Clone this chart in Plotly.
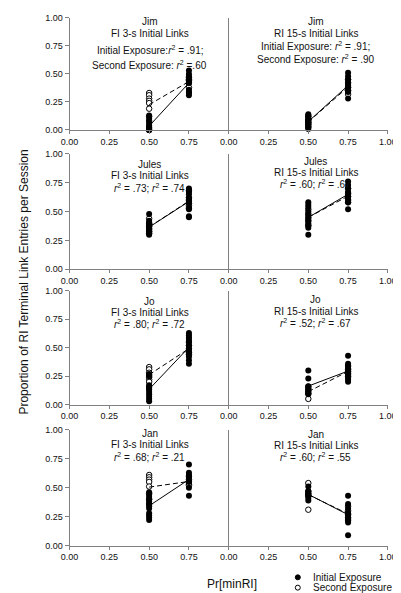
import numpy as np
import plotly.graph_objects as go

W, H = 401, 593

# ---------------- data ----------------
subjects = ["Jim", "Jim", "Jules", "Jules", "Jo", "Jo", "Jan", "Jan"]
conditions = ["FI 3-s Initial Links", "RI 15-s Initial Links"] * 4
r2_lines = [
    ["Initial Exposure:<i>r</i><sup>2</sup> = .91;", "Second Exposure: <i>r</i><sup>2</sup> =.60"],
    ["Initial Exposure: <i>r</i><sup>2</sup> = .91;", "Second Exposure: <i>r</i><sup>2</sup> = .90"],
    ["<i>r</i><sup>2</sup> = .73; <i>r</i><sup>2</sup> = .74"],
    ["<i>r</i><sup>2</sup> = .60; <i>r</i><sup>2</sup> = .67"],
    ["<i>r</i><sup>2</sup> = .80; <i>r</i><sup>2</sup> = .72"],
    ["<i>r</i><sup>2</sup> = .52; <i>r</i><sup>2</sup> = .67"],
    ["<i>r</i><sup>2</sup> = .68; <i>r</i><sup>2</sup> = .21"],
    ["<i>r</i><sup>2</sup> = .60; <i>r</i><sup>2</sup> = .55"],
]
x_ticks = [0.00, 0.25, 0.50, 0.75, 1.00]
y_ticks = [0.00, 0.25, 0.50, 0.75, 1.00]

# Initial exposure (filled) at Pr[minRI]=0.50 and 0.75
initial_050 = [
    [0.13, 0.10, 0.06, 0.04, 0.03, 0.02, 0.01, 0.00, 0.00, 0.00, 0.01, 0.02],
    [0.14, 0.13, 0.12, 0.10, 0.09, 0.08, 0.07, 0.06, 0.05, 0.03, 0.02, 0.01],
    [0.48, 0.42, 0.40, 0.39, 0.38, 0.37, 0.36, 0.35, 0.34, 0.33, 0.32, 0.31, 0.30],
    [0.58, 0.56, 0.54, 0.50, 0.47, 0.44, 0.42, 0.40, 0.38, 0.36, 0.30],
    [0.27, 0.25, 0.17, 0.16, 0.15, 0.14, 0.13, 0.11, 0.09, 0.07, 0.05, 0.03],
    [0.30, 0.23, 0.16, 0.14, 0.12, 0.10, 0.09],
    [0.46, 0.44, 0.42, 0.40, 0.38, 0.36, 0.34, 0.32, 0.28, 0.26, 0.24, 0.22],
    [0.51, 0.47, 0.45, 0.44, 0.43, 0.41, 0.39],
]
initial_075 = [
    [0.53, 0.50, 0.48, 0.46, 0.45, 0.44, 0.42, 0.36, 0.34, 0.33, 0.31],
    [0.51, 0.48, 0.45, 0.42, 0.40, 0.38, 0.36, 0.35, 0.34, 0.28],
    [0.70, 0.69, 0.67, 0.65, 0.62, 0.60, 0.59, 0.57, 0.53, 0.45, 0.46, 0.52],
    [0.76, 0.73, 0.70, 0.67, 0.65, 0.63, 0.61, 0.58, 0.52],
    [0.63, 0.61, 0.59, 0.57, 0.55, 0.52, 0.49, 0.47, 0.45, 0.42, 0.39, 0.36],
    [0.43, 0.36, 0.34, 0.32, 0.30, 0.28, 0.26, 0.24, 0.22, 0.20],
    [0.70, 0.63, 0.61, 0.59, 0.56, 0.55, 0.50, 0.43],
    [0.43, 0.36, 0.32, 0.28, 0.26, 0.24, 0.22, 0.20, 0.09],
]
# Second exposure (open) at 0.50 and 0.75
second_050 = [
    [0.33, 0.31, 0.28, 0.26, 0.24, 0.19, 0.12, 0.08],
    [0.12, 0.09, 0.07, 0.05, 0.03],
    [0.44, 0.40, 0.37, 0.35, 0.33, 0.31],
    [0.52, 0.48, 0.45, 0.42, 0.38],
    [0.33, 0.31, 0.28, 0.26, 0.24, 0.22, 0.20],
    [0.16, 0.14, 0.12, 0.10, 0.05],
    [0.61, 0.59, 0.57, 0.55, 0.51, 0.45, 0.40, 0.36],
    [0.54, 0.47, 0.45, 0.43, 0.31],
]
second_075 = [
    [0.47, 0.45, 0.44, 0.42, 0.38],
    [0.45, 0.42, 0.38, 0.35, 0.32],
    [0.68, 0.62, 0.60, 0.57, 0.55, 0.53],
    [0.70, 0.66, 0.63, 0.60, 0.58],
    [0.55, 0.52, 0.49, 0.46, 0.44],
    [0.34, 0.31, 0.29, 0.27, 0.25],
    [0.60, 0.57, 0.55, 0.53, 0.52],
    [0.34, 0.30, 0.27, 0.24, 0.22],
]

# ---------------- layout geometry (pixels) ----------------
FONT = "Liberation Sans, Arial, sans-serif"
col_px = [(55, 221.7), (221.7, 388.3)]
row_px = [(5, 119), (143.3, 260.7), (282.7, 398.3), (424, 541.7)]
title_x = [139, 313]
title_y = [
    [[8.3, 20.7, 37.5, 52.5], [8.3, 20.7, 33.5, 46.5]],
    [[154, 165.7, 177.7], [151, 162, 173.5]],
    [[293.3, 304.5, 316], [291.5, 303.3, 315.7]],
    [[427.5, 439.3, 452], [429, 440, 451.7]],
]

AX = "#808080"

fig = go.Figure()
annotations = []

for i in range(8):
    r, c = divmod(i, 2)
    n = i + 1
    xa = "x" if n == 1 else f"x{n}"
    ya = "y" if n == 1 else f"y{n}"
    xd = [col_px[c][0] / W, col_px[c][1] / W]
    yd = [1 - row_px[r][1] / H, 1 - row_px[r][0] / H]
    xkey = "xaxis" if n == 1 else f"xaxis{n}"
    ykey = "yaxis" if n == 1 else f"yaxis{n}"
    xt = x_ticks if c == 1 else x_ticks[:-1]
    fig.layout[xkey] = dict(
        domain=xd, anchor=ya, range=[0, 1], showgrid=False, zeroline=False,
        showline=True, linecolor=AX, linewidth=1, ticks="outside", ticklen=3,
        tickcolor=AX, tickvals=xt, ticktext=[f"{v:.2f}" for v in xt],
        tickfont=dict(size=9, color="#111", family=FONT), fixedrange=True,
    )
    if c == 0:
        fig.layout[ykey] = dict(
            domain=yd, anchor=xa, range=[0, 1], showgrid=False, zeroline=False,
            showline=True, linecolor=AX, linewidth=1, ticks="outside", ticklen=4,
            tickcolor=AX, tickvals=y_ticks, ticktext=[f"{v:.2f}" for v in y_ticks],
            tickfont=dict(size=9, color="#111", family=FONT),
        )
    else:
        fig.layout[ykey] = dict(
            domain=yd, anchor=xa, range=[0, 1], showgrid=False, zeroline=False,
            showline=True, linecolor=AX, linewidth=1, ticks="", showticklabels=False,
        )

    xs_i = [0.5] * len(initial_050[i]) + [0.75] * len(initial_075[i])
    ys_i = initial_050[i] + initial_075[i]
    xs_s = [0.5] * len(second_050[i]) + [0.75] * len(second_075[i])
    ys_s = second_050[i] + second_075[i]

    fig.add_trace(go.Scatter(
        x=xs_s, y=ys_s, mode="markers", xaxis=xa, yaxis=ya, cliponaxis=False,
        marker=dict(symbol="circle", size=5.5, color="white", line=dict(color="black", width=1)),
        showlegend=False, name="Second Exposure",
    ))
    fig.add_trace(go.Scatter(
        x=xs_i, y=ys_i, mode="markers", xaxis=xa, yaxis=ya, cliponaxis=False,
        marker=dict(symbol="circle", size=6, color="black"),
        showlegend=False, name="Initial Exposure",
    ))
    lx = np.array([0.5, 0.75])
    bi = np.polyfit(xs_i, ys_i, 1)
    bs = np.polyfit(xs_s, ys_s, 1)
    fig.add_trace(go.Scatter(
        x=lx, y=np.polyval(bi, lx), mode="lines", xaxis=xa, yaxis=ya,
        line=dict(color="black", width=1), showlegend=False, hoverinfo="skip",
    ))
    fig.add_trace(go.Scatter(
        x=lx, y=np.polyval(bs, lx), mode="lines", xaxis=xa, yaxis=ya,
        line=dict(color="black", width=1, dash="5px,3px"), showlegend=False, hoverinfo="skip",
    ))

    lines = [subjects[i], conditions[i]] + r2_lines[i]
    for txt, py in zip(lines, title_y[r][c]):
        annotations.append(dict(
            text=txt, x=title_x[c] / W, y=1 - py / H, xref="paper", yref="paper",
            xanchor="center", yanchor="middle", showarrow=False,
            font=dict(size=10, color="#111", family=FONT),
        ))

# axis titles
annotations.append(dict(
    text="Proportion of RI Terminal Link Entries per Session", x=7 / W, y=1 - 273.5 / H,
    xref="paper", yref="paper", textangle=-90, showarrow=False,
    xanchor="center", yanchor="middle", font=dict(size=12, color="#111", family=FONT),
))
annotations.append(dict(
    text="Pr[minRI]", x=225 / W, y=1 - 581 / H, xref="paper", yref="paper",
    showarrow=False, xanchor="center", yanchor="middle",
    font=dict(size=12, color="#111", family=FONT),
))
# legend
legend_items = [("Initial Exposure", "black", 574), ("Second Exposure", "white", 584.5)]
shapes = []
for label, fill, py in legend_items:
    shapes.append(dict(
        type="circle", xref="paper", yref="paper", xsizemode="pixel", ysizemode="pixel",
        xanchor=294 / W, yanchor=1 - py / H, x0=-2.5, x1=2.5, y0=-2.5, y1=2.5,
        fillcolor=fill, line=dict(color="black", width=1),
    ))
    annotations.append(dict(
        text=label, x=308 / W, y=1 - py / H, xref="paper", yref="paper",
        showarrow=False, xanchor="left", yanchor="middle",
        font=dict(size=10, color="#111", family=FONT),
    ))

fig.update_layout(
    width=W, height=H, autosize=False,
    margin=dict(l=0, r=0, t=0, b=0),
    paper_bgcolor="white", plot_bgcolor="white",
    annotations=annotations, shapes=shapes, showlegend=False,
    font=dict(family=FONT),
)

fig.write_html("out.html")
